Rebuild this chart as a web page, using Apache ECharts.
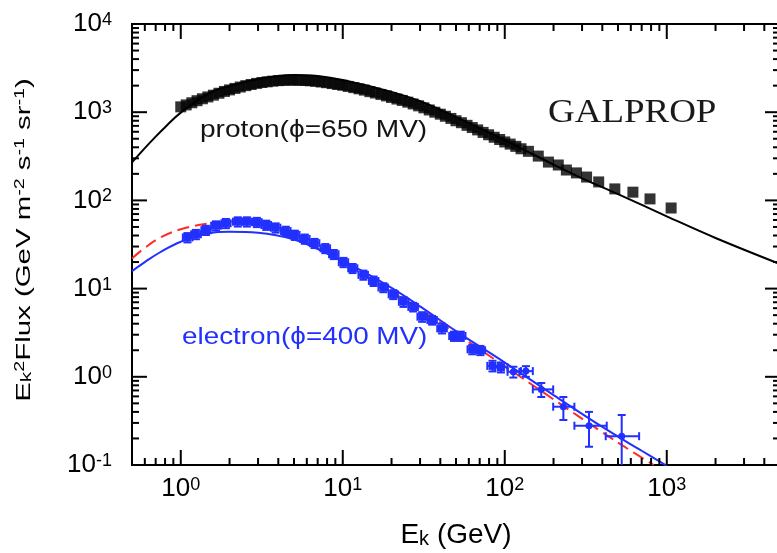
<!DOCTYPE html>
<html><head><meta charset="utf-8">
<script src="https://cdn.jsdelivr.net/npm/echarts@6/dist/echarts.min.js"></script>
<style>html,body{margin:0;padding:0;background:#fff}#c{width:777px;height:553px}</style>
</head><body><div id="c"></div>
<script>
// ---- proton data (GeV, GeV m^-2 s^-1 sr^-1) ----
const protonE = [1.0,1.08,1.17,1.26,1.36,1.47,1.59,1.72,1.86,2.0,2.16,2.33,2.52,2.72,2.94,3.17,3.42,3.7,4.0,4.3,4.65,5.0,5.4,5.85,6.3,6.8,7.35,7.95,8.6,9.3,10,10.8,11.7,12.6,13.6,14.7,15.9,17.2,18.6,20,21.6,23.3,25.2,27.2,29.4,31.7,34.2,37,40,43,46.5,50,54,58.5,63,68,73.5,79.5,86,93,100,108,117,126,140,161,186,214,240,277,320,380,478,618,788,1064];
const protonF = [1150,1210,1280,1350,1420,1490,1560,1640,1720,1790,1860,1930,2000,2060,2120,2170,2210,2250,2280,2300,2310,2310,2300,2290,2270,2240,2200,2160,2110,2060,2020,1960,1900,1840,1780,1710,1650,1590,1530,1470,1410,1360,1300,1240,1180,1120,1060,1000,950,900,850,800,760,710,670,630,590,555,520,490,460,435,410,385,360,318,272,252,221,205,184,162,135,124,104,82];
// ---- proton model curve ----
const protonCurveE = [0.5,0.6,0.7,0.8,1,1.5,2,3,4,5,7,10,20,30,50,100,200,300,500,1000,2000,5000];
const protonCurveF = [270,392,529,676,990,1650,1980,2380,2570,2640,2570,2320,1700,1330,880,480,255,178,118,66,37.5,19];
// ---- electron data with bin edges and errors ----
const elecE   = [1.1,1.24,1.43,1.65,1.9,2.25,2.56,2.95,3.37,3.85,4.45,5.06,5.83,6.7,7.8,8.8,10.1,11.5,13.4,15.5,17.8,20.5,23.7,27.2,30.9,35.6,41,48.6,53.5,63,70.7,84,94.7,113,135,168,230,331,527];
const elecF   = [38,41.3,46,51.7,55,57.4,57.4,56.6,52.6,49,44.9,40.5,36.6,32.7,28.6,24.5,19.9,17.0,14.3,12.2,10.3,8.6,7.1,6.2,4.8,4.4,3.54,2.9,2.9,2.05,2.0,1.33,1.28,1.14,1.16,0.72,0.458,0.279,0.212];
const elecELo = [1.03,1.16,1.34,1.54,1.78,2.1,2.4,2.76,3.15,3.6,4.16,4.73,5.45,6.27,7.3,8.23,9.45,10.8,12.5,14.5,16.6,19.2,22.2,25.4,28.9,33.3,38.3,45.4,50,58.9,66,78,87,104,126,149,199,269,420];
const elecEHi = [1.18,1.33,1.53,1.77,2.03,2.41,2.74,3.16,3.61,4.12,4.76,5.41,6.24,7.17,8.35,9.42,10.8,12.3,14.3,16.6,19,21.9,25.4,29.1,33.1,38.1,43.9,52,57.2,67.4,75.6,91,104,123,149,199,269,426,675];
const elecFLo = [33.4,36.3,40.5,45.5,48.4,50.5,50.5,49.8,46.3,43.1,39.5,35.6,32.2,28.8,25.2,21.6,17.5,15,12.6,10.7,9.1,7.6,6.2,5.5,4.2,3.9,3.1,2.55,2.55,1.8,1.76,1.15,1.12,0.98,1.0,0.59,0.324,0.161,0.05];
const elecFHi = [42.6,46.3,51.5,57.9,61.6,64.3,64.3,63.4,58.9,54.9,50.3,45.4,41,36.6,32,27.4,22.3,19,16,13.7,11.5,9.6,8.0,6.9,5.4,4.9,4.0,3.25,3.25,2.3,2.24,1.52,1.45,1.3,1.32,0.85,0.59,0.40,0.369];
// ---- electron model curves ----
const elecSolidE = [0.5,0.6,0.75,1.0,1.5,2.0,3.0,5.0,8.0,12.8,20,30,50,100,200,400,700,1000];
const elecSolidF = [15.8,20,26,34,42.5,44,43,36,25,16.3,10.2,6.3,3.3,1.45,0.62,0.27,0.145,0.098];
const elecDashE  = [0.5,0.6,0.75,1.0,1.5,2.0,2.7,3.5,5.0,7.0,11,18,30,50,100,200,400,600,830];
const elecDashF  = [22,29,38,47,55,57.5,55,49.5,39,28.5,18.3,10.3,5.9,3.1,1.32,0.555,0.235,0.145,0.1];
// ---- axes ----
const xMin = 0.5, xMax = 5000, yMin = 0.1, yMax = 10000;
const xDecades = [-1,0,1,2,3];
const yDecades = [-1,0,1,2,3];

const FONT = "'Liberation Sans', Arial, Helvetica, sans-serif";
const BLUE = '#2230ff';

function inRangeStrict(v, a, b){ return v > a*1.0001 && v < b*0.9999; }
const tickData = [];
xDecades.forEach(d => { for (let m=1;m<=9;m++){ const v = +(m*Math.pow(10,d)).toPrecision(6); if (inRangeStrict(v,xMin,xMax)) tickData.push([v,1,m===1?1:0]); } });
yDecades.forEach(d => { for (let m=1;m<=9;m++){ const v = +(m*Math.pow(10,d)).toPrecision(6); if (inRangeStrict(v,yMin,yMax)) tickData.push([1,v,m===1?3:2]); } });

const pow10Label = v => {
  const l = Math.log10(v), r = Math.round(l);
  if (Math.abs(l - r) > 1e-6) return '';
  return '{b|10}{s|' + r + '}';
};
const tickRich = {
  b: {fontSize: 26, lineHeight: 26, fontFamily: FONT, color: '#000', padding: [8,0,0,0], verticalAlign: 'bottom'},
  s: {fontSize: 18, lineHeight: 18, fontFamily: FONT, color: '#000', verticalAlign: 'top'}
};

function tickRender(params, api) {
  const code = api.value(2);
  const st = {stroke: '#000', lineWidth: 2};
  if (code < 2) {
    const v = api.value(0);
    const b = api.coord([v, yMin]), t = api.coord([v, yMax]);
    const len = code === 1 ? 15 : 7;
    return {type: 'group', children: [
      {type: 'line', shape: {x1: b[0], y1: b[1], x2: b[0], y2: b[1] - len}, style: st},
      {type: 'line', shape: {x1: t[0], y1: t[1], x2: t[0], y2: t[1] + len}, style: st}
    ]};
  }
  const v = api.value(1);
  const l = api.coord([xMin, v]), r = api.coord([xMax, v]);
  const len = code === 3 ? 15 : 7;
  return {type: 'group', children: [
    {type: 'line', shape: {x1: l[0], y1: l[1], x2: l[0] + len, y2: l[1]}, style: st},
    {type: 'line', shape: {x1: r[0], y1: r[1], x2: r[0] - len, y2: r[1]}, style: st}
  ]};
}

const chart = echarts.init(document.getElementById('c'));
chart.setOption({
  animation: false,
  backgroundColor: '#fff',
  grid: {left: 132, right: -3, top: 24, bottom: 88, show: true, borderColor: '#000', borderWidth: 2, containLabel: false, outerBoundsMode: 'none'},
  xAxis: {
    type: 'log', logBase: 10, min: xMin, max: xMax,
    axisLine: {lineStyle: {color: '#000', width: 2}},
    axisTick: {show: false}, splitLine: {show: false},
    axisLabel: {formatter: pow10Label, margin: 11, rich: tickRich, showMinLabel: true, showMaxLabel: true},
    name: '{b|E}{k|k}{b| (GeV)}', nameLocation: 'middle', nameGap: 56,
    nameTextStyle: {rich: {
      b: {fontSize: 28, lineHeight: 28, fontFamily: FONT, color: '#000', verticalAlign: 'top', padding: [0,0,6,0]},
      k: {fontSize: 20, lineHeight: 20, fontFamily: FONT, color: '#000', verticalAlign: 'bottom'}
    }}
  },
  yAxis: {
    type: 'log', logBase: 10, min: yMin, max: yMax,
    axisLine: {lineStyle: {color: '#000', width: 2}},
    axisTick: {show: false}, splitLine: {show: false},
    axisLabel: {formatter: pow10Label, margin: 20, rich: tickRich}
  },
  graphic: [
    {type: 'text', x: 24, y: 240, rotation: Math.PI/2, scaleX: 1.4,
     style: {text: '{b|E}{k|k}{s|2}{b|Flux (GeV m}{s|-2}{b| s}{s|-1}{b| sr}{s|-1}{b|)}',
       align: 'center', verticalAlign: 'middle',
       rich: {
         b: {fontSize: 21, lineHeight: 21, fontFamily: FONT, fill: '#000', padding: [6,0,0,0], verticalAlign: 'bottom'},
         s: {fontSize: 14, lineHeight: 14, fontFamily: FONT, fill: '#000', verticalAlign: 'top'},
         k: {fontSize: 15, lineHeight: 15, fontFamily: FONT, fill: '#000', verticalAlign: 'bottom'}
       }}},
    {type: 'text', x: 548, y: 113, scaleX: 1.12,
     style: {text: 'GALPROP', font: "33px 'Liberation Serif', 'Times New Roman', serif", fill: '#1a1a1a', verticalAlign: 'middle', align: 'left'}},
    {type: 'text', x: 200, y: 130, scaleX: 1.17,
     style: {text: 'proton(\u03D5=650 MV)', font: "24px " + FONT, fill: '#141414', verticalAlign: 'middle', align: 'left'}},
    {type: 'text', x: 182, y: 337, scaleX: 1.16,
     style: {text: 'electron(\u03D5=400 MV)', font: "24px " + FONT, fill: BLUE, verticalAlign: 'middle', align: 'left'}}
  ],
  series: [
    {type: 'custom', name: 'ticks', coordinateSystem: 'cartesian2d', data: tickData, encode: {x: 0, y: 1}, z: 5,
     renderItem: tickRender},
    {type: 'line', name: 'proton model', data: protonCurveE.map((e,i)=>[e, protonCurveF[i]]),
     smooth: 0.4, showSymbol: false, lineStyle: {color: '#000', width: 2}, z: 2},
    {type: 'scatter', name: 'proton', data: protonE.map((e,i)=>[e, protonF[i]]),
     symbol: 'rect', symbolSize: 11, itemStyle: {color: '#000'}, z: 3},
    {type: 'line', name: 'electron model dashed', data: elecDashE.map((e,i)=>[e, elecDashF[i]]),
     smooth: 0.4, showSymbol: false, lineStyle: {color: '#ff2a2a', width: 2, type: [12,6]}, z: 2},
    {type: 'line', name: 'electron model', data: elecSolidE.map((e,i)=>[e, elecSolidF[i]]),
     smooth: 0.4, showSymbol: false, lineStyle: {color: BLUE, width: 2}, z: 2},
    {type: 'custom', name: 'electron', coordinateSystem: 'cartesian2d', clip: true, z: 4,
     data: elecE.map((e,i)=>[e, elecF[i], elecELo[i], elecEHi[i], elecFLo[i], elecFHi[i]]),
     encode: {x: 0, y: 1},
     renderItem: (params, api) => {
       const c = api.coord([api.value(0), api.value(1)]);
       const xl = api.coord([api.value(2), api.value(1)])[0];
       const xh = api.coord([api.value(3), api.value(1)])[0];
       const yl = api.coord([api.value(0), api.value(4)])[1];
       const yh = api.coord([api.value(0), api.value(5)])[1];
       const st = {stroke: BLUE, lineWidth: 2};
       const cap = 4;
       const big = api.value(0) < 100;
       return {type: 'group', children: [
         {type: 'line', shape: {x1: xl, y1: c[1], x2: xh, y2: c[1]}, style: st},
         {type: 'line', shape: {x1: xl, y1: c[1]-cap, x2: xl, y2: c[1]+cap}, style: st},
         {type: 'line', shape: {x1: xh, y1: c[1]-cap, x2: xh, y2: c[1]+cap}, style: st},
         {type: 'line', shape: {x1: c[0], y1: yl, x2: c[0], y2: yh}, style: st},
         {type: 'line', shape: {x1: c[0]-cap, y1: yl, x2: c[0]+cap, y2: yl}, style: st},
         {type: 'line', shape: {x1: c[0]-cap, y1: yh, x2: c[0]+cap, y2: yh}, style: st},
         big ? {type: 'rect', shape: {x: c[0]-4, y: c[1]-4, width: 8, height: 8}, style: {fill: BLUE}}
             : {type: 'circle', shape: {cx: c[0], cy: c[1], r: 3.5}, style: {fill: BLUE}}
       ]};
     }}
  ]
});
</script></body></html>
